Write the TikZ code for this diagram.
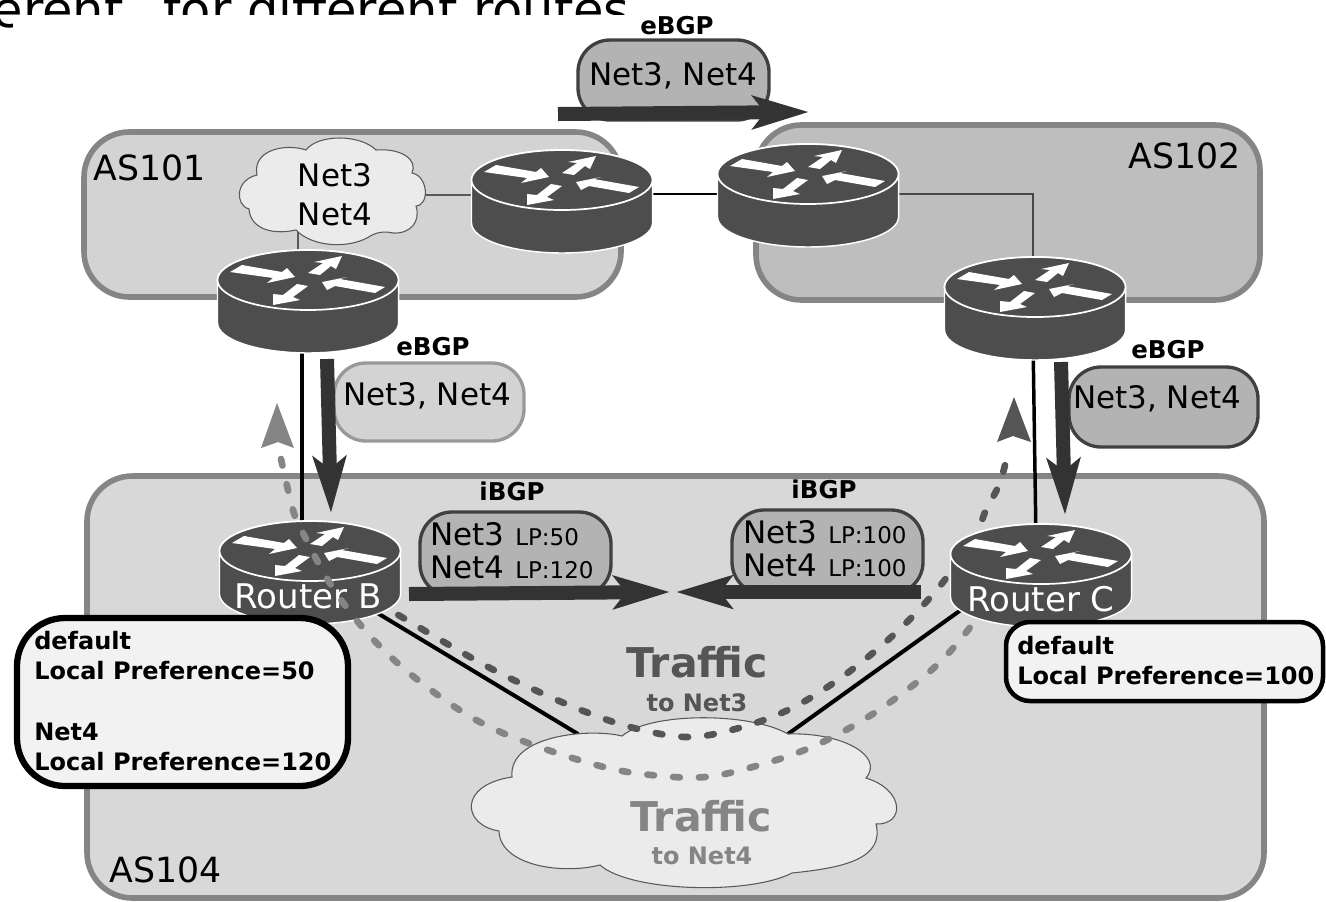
\documentclass[tikz,border=0pt]{standalone}
\usepackage{fontspec}
\setmainfont{DejaVu Sans}
\usetikzlibrary{arrows.meta,fit}
\definecolor{asedge}{HTML}{858585}
\definecolor{asa}{HTML}{D3D3D3}
\definecolor{asb}{HTML}{BEBEBE}
\definecolor{asc}{HTML}{D8D8D8}
\definecolor{rtr}{HTML}{4D4D4D}
\definecolor{arr}{HTML}{333333}
\definecolor{bubdark}{HTML}{B3B3B3}
\definecolor{edgedark}{HTML}{404040}
\definecolor{edgelight}{HTML}{999999}
\definecolor{cloudfill}{HTML}{EBEBEB}
\definecolor{boxfill}{HTML}{F2F2F2}
\definecolor{dashdark}{HTML}{555555}
\definecolor{dashlight}{HTML}{858585}
\newcommand{\pxfont}[1]{\fontsize{\fpeval{#1*0.75}pt}{\fpeval{#1*0.9}pt}\selectfont}
\newcommand{\boxat}[6]{\coordinate (#1a) at (#3,#4); \coordinate (#1b) at (#5,#6);
  \node[#2,fit=(#1a)(#1b),inner sep=0pt] (#1) {};}
\tikzset{
  x=0.75pt,y=-0.75pt,
  asbox/.style={draw=asedge,line width=4.2pt,rounded corners=34pt},
  bubble/.style={line width=2.5pt,rounded corners=24pt},
  prefbox/.style={draw=black,fill=boxfill},
  txt/.style={inner sep=0pt,anchor=base west,text=black},
  ctxt/.style={inner sep=0pt,anchor=base,text=black},
  lbl/.style={ctxt,font=\pxfont{31}},
  blbl/.style={ctxt,font=\pxfont{24.5}\bfseries},
  astxt/.style={txt,font=\pxfont{34.7}},
  routerbox/.style={inner sep=0pt,minimum width=135pt,minimum height=77pt},
  cloudshape/.style={fill=cloudfill,draw=black!65,line width=0.8pt},
  bigarrow/.style={draw=arr,fill=arr,line width=10.5pt,-{Stealth[length=42pt,width=24.5pt,inset=9pt]}},
  dashcurve/.style={line width=5pt,line cap=round,dash pattern=on 5pt off 14.4pt},
  routerpic/.pic={
    \begin{scope}[shift={(0,-21.5)}]
      \fill[rtr,draw=white,line width=1.1pt] (-90.5,0) -- (-90.5,43)
        arc[start angle=180,end angle=360,x radius=67.9pt,y radius=22.5pt]
        -- (90.5,0) arc[start angle=0,end angle=180,x radius=67.9pt,y radius=22.5pt] -- cycle;
      \fill[rtr,draw=white,line width=1.3pt] (0,0) ellipse[x radius=67.9pt,y radius=22.5pt];
      \fill[white] (-66,-15) -- (-26,-8) -- (-21,-12) -- (-13,-3) -- (-41,3) -- (-35,-2) -- (-78,-8) -- cycle;
      \fill[white] (0,-7) -- (15,-17) -- (6,-18) -- (34,-24) -- (28,-11) -- (23,-14) -- (12,-5) -- cycle;
      \fill[white] (77,7) -- (67,13) -- (27,6) -- (19,10) -- (14,2) -- (39,-3) -- (32,-1) -- cycle;
      \fill[white] (-11,4) -- (0,6) -- (-15,17) -- (-8,20) -- (-35,25) -- (-35,14) -- (-25,15) -- cycle;
    \end{scope}
  }
}
\begin{document}
\begin{tikzpicture}
\useasboundingbox (0,0) rectangle (1326,901);
\clip (0,0) rectangle (1326,901);
\fill[white] (0,0) rectangle (1326,901);

% title, cut by the page edge and by the white sheet of the figure
\node[inner sep=0pt,anchor=base east,font=\pxfont{49.5}] (title) at (630,27) {different\hspace{18pt} for different routes};
\fill[white] (13,15) rectangle (700,60);

% autonomous systems
\boxat{asa}{asbox,fill=asa}{84}{132}{621}{297}
\boxat{asb}{asbox,fill=asb}{756}{125}{1260}{300}
\boxat{asc}{asbox,fill=asc}{87}{476}{1264}{898}

% router placeholders (drawn later)
\node[routerbox] (ra) at (308,301.5) {};
\node[routerbox] (rb) at (562,201.5) {};
\node[routerbox] (rc) at (808,195.5) {};
\node[routerbox] (rd) at (1035,308.5) {};
\node[routerbox] (rB) at (310,572.5) {};
\node[routerbox] (rC) at (1041,575.5) {};

\coordinate (cn) at (335,195);

% links
\draw[line width=2pt,draw=black!65] (298,200) -- (298,280);
\draw[line width=2pt,draw=black!65] (cn) -- (cn -| rb.west);
\draw[line width=2.2pt,draw=black] (562,194) -- (808,194);
\draw[line width=2.2pt,draw=black!72] (808,194) -- (1033,194) -- (1033,280);
\draw[line width=2.6pt,draw=black] (302,340) -- (302,540);
\draw[line width=2.6pt,draw=black] (1033,340) -- (1036,540);
\draw[line width=3pt,draw=black] (rB) ++(40,24) -- (578,734);
\draw[line width=3pt,draw=black] (rC) ++(-60,20) -- (788,734);

% top Net cloud
\draw[cloudshape] (257,175)
  .. controls (252,150) and (285,143) .. (306,150)
  .. controls (318,134) and (360,134) .. (376,150)
  .. controls (402,148) and (418,160) .. (412,173)
  .. controls (428,176) and (430,205) .. (416,206)
  .. controls (421,222) and (410,234) .. (393,233)
  .. controls (386,231) and (378,232) .. (372,235)
  .. controls (350,250) and (312,247) .. (296,230)
  .. controls (268,236) and (250,226) .. (249,209)
  .. controls (235,205) and (235,180) .. (257,175) -- cycle;
\node[lbl] (nt3) at (335,186) {Net3};
\node[lbl] (nt4) at (335,225) {Net4};

% bottom Traffic cloud
\draw[cloudshape] (622,736)
  .. controls (650,712) and (750,712) .. (788,734)
  .. controls (840,732) and (885,755) .. (866,778)
  .. controls (905,790) and (905,825) .. (876,824)
  .. controls (885,860) and (840,868) .. (792,873)
  .. controls (750,895) and (630,892) .. (600,865)
  .. controls (560,875) and (500,865) .. (499,831)
  .. controls (462,825) and (458,785) .. (512,777)
  .. controls (508,735) and (590,728) .. (622,736) -- cycle;

% dark curve (Net3), under routers
\coordinate (tipN3) at (1014,397);
\draw[dashcurve,draw=dashdark] plot[smooth,tension=0.6] coordinates {(376,602) (400,616) (444,642) (490,668) (537,691) (586,712) (634,728) (688,737) (739,728) (788,710) (832,684) (874,652) (912,617) (947,577) (976,533) (986,510) (999,485) (1006,461)};
\fill[dashdark] (tipN3) -- (1031,442) -- (1013,436) -- (997,442) -- cycle;

% routers
\pic at (ra) {routerpic};
\pic at (rb) {routerpic};
\pic at (rc) {routerpic};
\pic at (rd) {routerpic};
\pic at (rB) {routerpic};
\node[ctxt,font=\pxfont{34},text=white] (lb) at (308,608) {Router B};

% light curve (Net4) over router B
\coordinate (tipN4) at (277,403);
\draw[dashcurve,draw=dashlight] plot[smooth,tension=0.6] coordinates {(281,459) (293,510) (302,531) (328,580) (358,622) (393,659) (435,693) (478,721) (528,743) (600,766) (651,775) (705,777) (756,766) (807,749) (853,726) (896,698) (938,664) (971,626) (985,600)};
\fill[dashlight] (tipN4) -- (294,448) -- (278,442) -- (261,448) -- cycle;

\pic at (rC) {routerpic};
\node[ctxt,font=\pxfont{34},text=white] (lc) at (1041,611) {Router C};

% bubbles and thick arrows
\boxat{ba}{bubble,draw=edgedark,fill=bubdark}{578}{40}{769}{120}
\boxat{bb}{bubble,draw=edgelight,fill=asa}{334}{363}{524}{441}
\boxat{bc}{bubble,draw=edgedark,fill=bubdark}{1069}{367}{1258}{447}
\boxat{bl}{bubble,draw=edgedark,fill=bubdark}{420}{512}{611}{596}
\boxat{br}{bubble,draw=edgedark,fill=bubdark}{732}{510}{923}{594}

\coordinate (a1s) at (558,114); \coordinate (a1e) at (809,112);
\coordinate (a2s) at (327,359); \coordinate (a2e) at (331,513);
\coordinate (a3s) at (1061,362); \coordinate (a3e) at (1065,515);
\coordinate (a4s) at (409,594); \coordinate (a4e) at (670,592);
\coordinate (a5s) at (921,592); \coordinate (a5e) at (676,592);
\draw[bigarrow] (a1s) -- (a1e);
\draw[bigarrow] (a2s) -- (a2e);
\draw[bigarrow] (a3s) -- (a3e);
\draw[bigarrow] (a4s) -- (a4e);
\draw[bigarrow] (a5s) -- (a5e);

% labels
\node[astxt] (t101) at (93,180) {AS101};
\node[astxt,anchor=base east] (t102) at (1241,168) {AS102};
\node[astxt] (t104) at (109,882) {AS104};

\node[blbl] (e1) at (677,34) {eBGP};
\node[lbl] (n1) at (673,85) {Net3, Net4};
\node[blbl] (e2) at (433,355) {eBGP};
\node[lbl] (n2) at (427,405) {Net3, Net4};
\node[blbl] (e3) at (1168,358) {eBGP};
\node[lbl] (n3) at (1157,408) {Net3, Net4};

\node[blbl] (i1) at (512,500) {iBGP};
\node[blbl] (i2) at (824,498) {iBGP};
\node[txt,font=\pxfont{31}] (l1) at (430,545) {Net3};
\node[txt,font=\pxfont{23}] (l1p) at (515,545) {LP:50};
\node[txt,font=\pxfont{31}] (l2) at (430,578) {Net4};
\node[txt,font=\pxfont{23}] (l2p) at (515,578) {LP:120};
\node[txt,font=\pxfont{31}] (r1) at (743,543) {Net3};
\node[txt,font=\pxfont{23}] (r1p) at (828,543) {LP:100};
\node[txt,font=\pxfont{31}] (r2) at (743,576) {Net4};
\node[txt,font=\pxfont{23}] (r2p) at (828,576) {LP:100};

\node[ctxt,font=\pxfont{41}\bfseries,text=dashdark] (tr3) at (697,677) {Traffic};
\node[ctxt,font=\pxfont{24}\bfseries,text=dashdark] (to3) at (697,711) {to Net3};
\node[ctxt,font=\pxfont{41}\bfseries,text=dashlight] (tr4) at (701,831) {Traffic};
\node[ctxt,font=\pxfont{24}\bfseries,text=dashlight] (to4) at (702,864) {to Net4};

% preference boxes
\boxat{pb}{prefbox,line width=4.7pt,rounded corners=36pt}{17}{618}{348}{786}
\boxat{pc}{prefbox,line width=3.4pt,rounded corners=18pt}{1006}{622}{1323}{701}
\node[txt,font=\pxfont{24}\bfseries] (p1) at (34,649) {default};
\node[txt,font=\pxfont{24}\bfseries] (p2) at (34,679) {Local Preference=50};
\node[txt,font=\pxfont{24}\bfseries] (p3) at (34,740) {Net4};
\node[txt,font=\pxfont{24}\bfseries] (p4) at (34,770) {Local Preference=120};
\node[txt,font=\pxfont{24}\bfseries] (p5) at (1017,654) {default};
\node[txt,font=\pxfont{24}\bfseries] (p6) at (1017,684) {Local Preference=100};
\end{tikzpicture}
\end{document}
